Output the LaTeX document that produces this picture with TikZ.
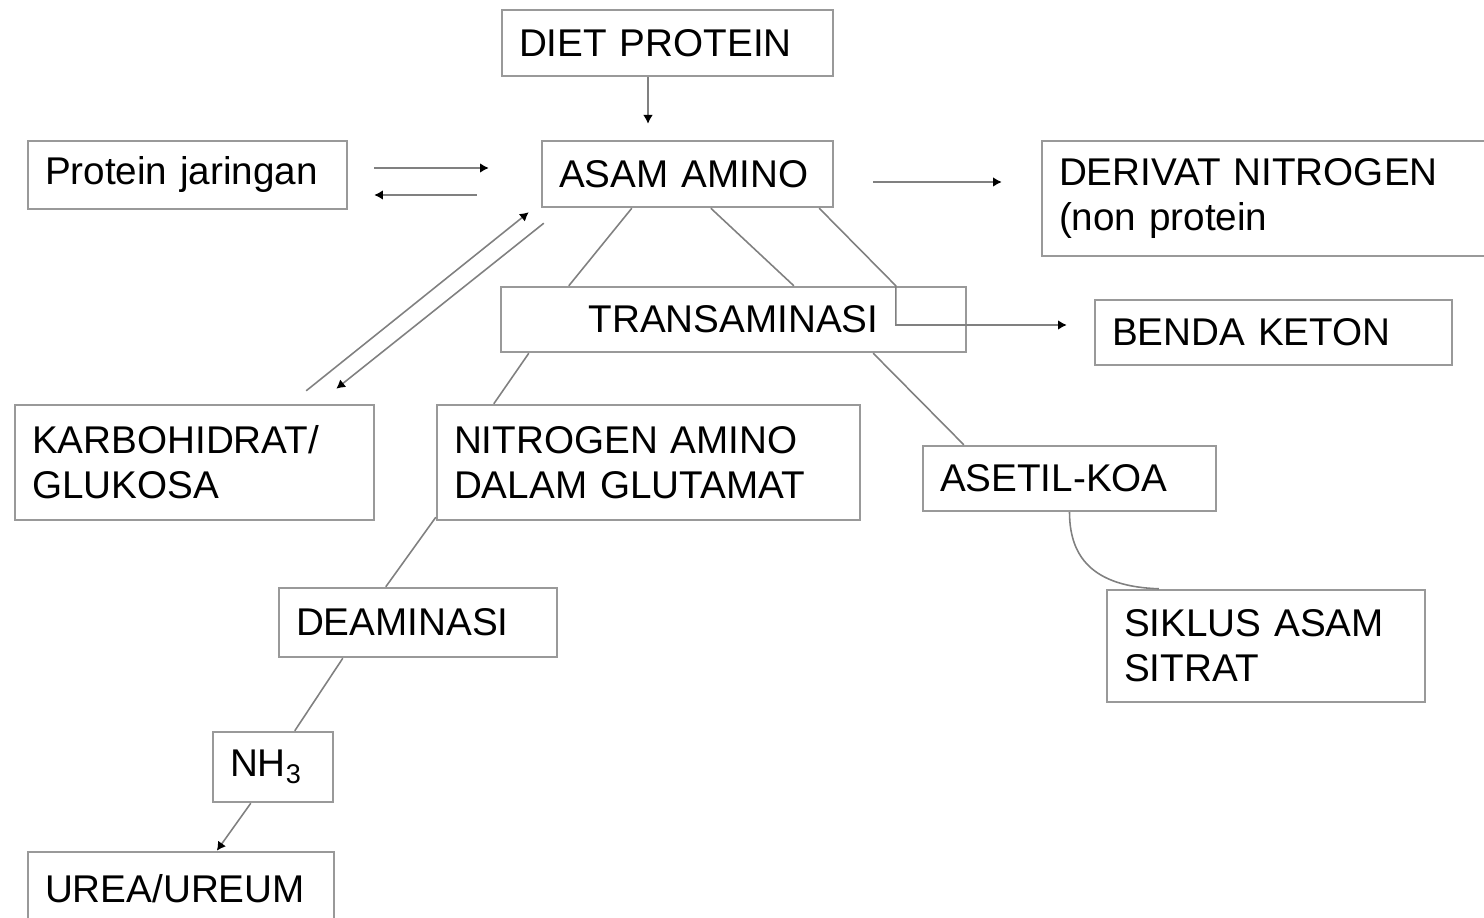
\documentclass[tikz,border=0pt]{standalone}
\usepackage{fontspec}
\setmainfont{Liberation Sans}
\usetikzlibrary{arrows.meta}

\begin{document}
\begin{tikzpicture}[x=0.02cm,y=-0.02cm,
  box/.style={draw=gray!80,line width=1.4pt,inner xsep=0.34cm,inner ysep=0pt,align=left,
    font=\fontsize{22}{25.5}\selectfont},
  link/.style={gray,line width=0.9pt},
  arr/.style={link,-{Latex[black,length=5pt,width=5.5pt]}}]
\useasboundingbox (0,0) rectangle (1484,918);
% boxes
\node[box,text width=5.94cm,minimum height=1.32cm] (diet) at (667.5,43) {DIET PROTEIN};
\node[box,text width=5.14cm,minimum height=1.32cm] (amino) at (687.5,174) {ASAM AMINO};
\node[box,text width=5.70cm,minimum height=1.36cm] (jaringan) at (187.5,175) {Protein jaringan};
\node[box,text width=8.28cm,minimum height=2.30cm] (derivat) at (1266,198.5) {DERIVAT NITROGEN\\(non protein};
\node[box,text width=8.62cm,minimum height=1.30cm,align=center] (trans) at (733.5,319.5) {TRANSAMINASI};
\node[box,text width=6.46cm,minimum height=1.30cm] (keton) at (1273.5,332.5) {BENDA KETON};
\node[box,text width=6.50cm,minimum height=2.30cm] (karbo) at (194.5,462.5) {KARBOHIDRAT/\\GLUKOSA};
\node[box,text width=7.78cm,minimum height=2.30cm] (nitro) at (648.5,462.5) {NITROGEN AMINO\\DALAM GLUTAMAT};
\node[box,text width=5.18cm,minimum height=1.30cm] (asetil) at (1069.5,478.5) {ASETIL-KOA};
\node[box,text width=5.68cm,minimum height=2.24cm] (siklus) at (1266,646) {SIKLUS ASAM\\SITRAT};
\node[box,text width=4.88cm,minimum height=1.38cm] (deam) at (418,622.5) {DEAMINASI};
\node[box,text width=1.72cm,minimum height=1.40cm] (nh3) at (273,767) {NH\textsubscript{3}};
\node[box,text width=5.44cm,minimum height=1.46cm] (urea) at (181,888.5) {UREA/UREUM};
% connectors
\draw[arr] ([shift={(-19.5,0)}]diet.south) -- ([shift={(-39.5,-16)}]amino.north);
\draw[arr] ([shift={(26,-7)}]jaringan.east) -- ([shift={(-52,-6)}]amino.west);
\draw[arr] ([shift={(-64,21)}]amino.west) -- ([shift={(26,20)}]jaringan.east);
\draw[arr] ([shift={(39,8)}]amino.east) -- ([shift={(-39,-16.5)}]derivat.west);
\draw[arr] ([shift={(-69,-13)}]karbo.north east) -- ([shift={(-12,4)}]amino.south west);
\draw[arr] ([shift={(3,15)}]amino.south west) -- ([shift={(-39,-15)}]karbo.north east);
\draw[link] ([shift={(91,0)}]amino.south west) -- ([shift={(69,0)}]trans.north west);
\draw[link] ([shift={(170,0)}]amino.south west) -- ([shift={(294,0)}]trans.north west);
\draw[arr] ([shift={(-15,0)}]amino.south east) -- ([shift={(396,0)}]trans.north west) |- ([shift={(-27,-7.5)}]keton.west);
\draw[link] ([shift={(29,0)}]trans.south west) -- ([shift={(58,0)}]nitro.north west);
\draw[link] ([shift={(-94,0)}]trans.south east) -- ([shift={(42,0)}]asetil.north west);
\draw[link] ([shift={(0,-4)}]nitro.south west) -- ([shift={(108,0)}]deam.north west);
\draw[link] ([shift={(65,0)}]deam.south west) -- ([shift={(83,0)}]nh3.north west);
\draw[arr] ([shift={(39,0)}]nh3.south west) -- ([shift={(190,0)}]urea.north west);
\draw[link] (asetil.south) .. controls +(0,50) and +(-60,-2) .. ([shift={(53,0)}]siklus.north west);
\end{tikzpicture}
\end{document}
